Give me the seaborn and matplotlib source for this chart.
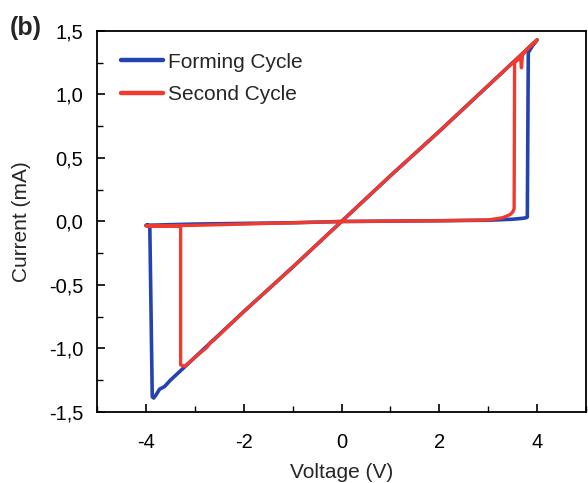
import numpy as np
import pandas as pd
import matplotlib
matplotlib.use("Agg")
import matplotlib.pyplot as plt
from matplotlib.ticker import FixedLocator, FuncFormatter, MultipleLocator
import seaborn as sns

# ---- data ----
forming_v = [0.0, 1.0, 2.0, 3.0, 3.5, 3.7, 3.78, 3.80, 3.82, 3.90, 4.0,
             3.0, 2.0, 1.0, 0.0, -1.0, -2.0, -3.0, -3.5, -3.62, -3.72, -3.80, -3.84,
             -3.87, -3.92, -3.95, -4.0, -3.0, -2.0, -1.0, 0.0]
forming_i = [0.0, 0.003, 0.006, 0.01, 0.018, 0.025, 0.03, 0.035, 1.33, 1.38, 1.43,
             1.07, 0.71, 0.36, 0.0, -0.36, -0.71, -1.07, -1.25, -1.30, -1.32, -1.37, -1.39,
             -1.38, -0.04, -0.03, -0.03, -0.02, -0.015, -0.01, 0.0]

second_v = [0.0, 1.0, 2.0, 3.0, 3.3, 3.45, 3.50, 3.53, 3.54, 3.62, 3.66, 3.68, 3.70,
            3.80, 4.0, 3.0, 2.0, 1.0, 0.0, -1.0, -2.0, -2.6, -2.68, -2.75, -3.0,
            -3.2, -3.29, -3.29, -3.5, -4.0, -3.0, -2.0, -1.0, 0.0]
second_i = [0.0, 0.003, 0.006, 0.012, 0.03, 0.055, 0.075, 0.10, 1.25, 1.28, 1.30, 1.21, 1.31,
            1.36, 1.43, 1.07, 0.71, 0.36, 0.0, -0.36, -0.71, -0.93, -0.95, -0.99, -1.07,
            -1.14, -1.13, -0.04, -0.035, -0.035, -0.03, -0.02, -0.01, 0.0]

series_labels = ["Forming Cycle", "Second Cycle"]
x_ticks = [-4, -2, 0, 2, 4]
y_ticks = [-1.5, -1.0, -0.5, 0.0, 0.5, 1.0, 1.5]

blue = "#2443b0"
red = "#f03a2e"

sns.set_style("ticks")
plt.rcParams["font.family"] = ["Liberation Sans", "DejaVu Sans"]

fig = plt.figure(figsize=(5.88, 4.83), dpi=100)
ax = fig.add_axes([97 / 588, 1 - 412 / 483, 489 / 588, 381 / 483])

sns.lineplot(x=forming_v, y=forming_i, sort=False, estimator=None, ax=ax,
             color=blue, lw=2.6, label=series_labels[0], zorder=2)
sns.lineplot(x=second_v, y=second_i, sort=False, estimator=None, ax=ax,
             color=red, lw=2.4, label=series_labels[1], zorder=3)

ax.set_xlim(-5, 5)
ax.set_ylim(-1.5, 1.5)
ax.xaxis.set_major_locator(FixedLocator(x_ticks))
ax.xaxis.set_minor_locator(MultipleLocator(1))
ax.yaxis.set_major_locator(FixedLocator(y_ticks))
ax.yaxis.set_minor_locator(MultipleLocator(0.25))
ax.xaxis.set_major_formatter(FuncFormatter(lambda v, p: f"{v:.0f}".replace("\u2212", "-")))
ax.yaxis.set_major_formatter(FuncFormatter(lambda v, p: f"{v:.1f}".replace(".", ",")))

ax.tick_params(which="both", direction="in", top=False, right=False, colors="black",
               labelsize=14.5)
ax.tick_params(which="major", length=6, width=1.2)
ax.tick_params(which="minor", length=4, width=1.0)
ax.tick_params(axis="y", which="major", pad=10)
ax.tick_params(axis="x", which="major", pad=15)
for s in ax.spines.values():
    s.set_visible(True)
    s.set_color("black")
    s.set_linewidth(1.3)

ax.set_xlabel("Voltage (V)", fontsize=15, labelpad=8)
ax.set_ylabel("Current (mA)", fontsize=15, labelpad=13)

leg = ax.legend(loc="upper left", bbox_to_anchor=(0.032, 0.965), frameon=False,
                fontsize=15, handlelength=2.0, handletextpad=0.25, labelspacing=0.65,
                borderaxespad=0.0)
for line in leg.get_lines():
    line.set_linewidth(3.2)

fig.text(10 / 588, 1 - 28 / 483, "(b)", fontsize=18, fontweight="bold", va="center", ha="left")

fig.savefig("out.png", dpi=100)
